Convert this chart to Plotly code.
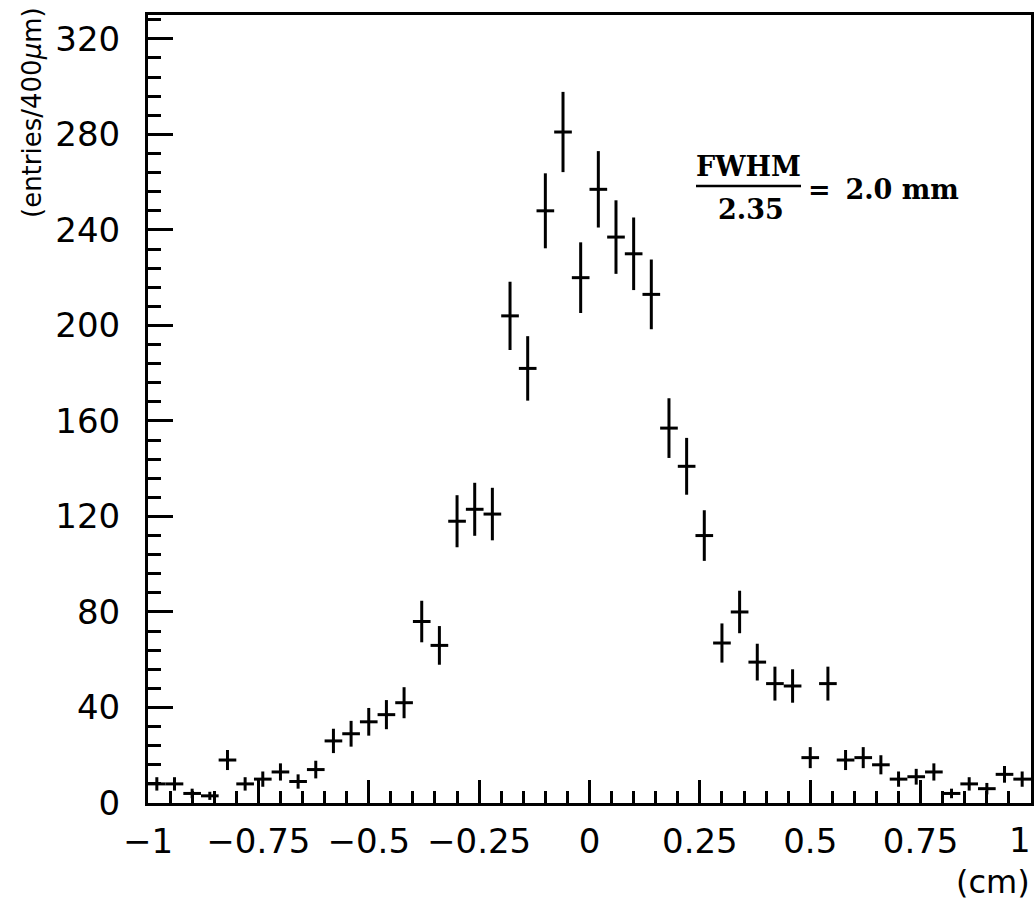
import plotly.graph_objects as go

# Bin centres (cm), 400 um bins
bin_centers = [-0.98, -0.94, -0.90, -0.86, -0.82, -0.78, -0.74, -0.70, -0.66, -0.62,
               -0.58, -0.54, -0.50, -0.46, -0.42, -0.38, -0.34, -0.30, -0.26, -0.22,
               -0.18, -0.14, -0.10, -0.06, -0.02, 0.02, 0.06, 0.10, 0.14, 0.18,
               0.22, 0.26, 0.30, 0.34, 0.38, 0.42, 0.46, 0.50, 0.54, 0.58,
               0.62, 0.66, 0.70, 0.74, 0.78, 0.82, 0.86, 0.90, 0.94, 0.98]

entries = [8, 8, 4, 3, 18, 8, 10, 13, 9, 14,
           26, 29, 34, 37, 42, 76, 66, 118, 123, 121,
           204, 182, 248, 281, 220, 257, 237, 230, 213, 157,
           141, 112, 67, 80, 59, 50, 49, 19, 50, 18,
           19, 16, 10, 11, 13, 4, 8, 6, 12, 10]

errors = [2.8, 2.8, 2.0, 1.7, 4.2, 2.8, 3.2, 3.6, 3.0, 3.7,
          5.1, 5.4, 5.8, 6.1, 6.5, 8.7, 8.1, 10.9, 11.1, 11.0,
          14.3, 13.5, 15.7, 16.8, 14.8, 16.0, 15.4, 15.2, 14.6, 12.5,
          11.9, 10.6, 8.2, 8.9, 7.7, 7.1, 7.0, 4.4, 7.1, 4.2,
          4.4, 4.0, 3.2, 3.3, 3.6, 2.0, 2.8, 2.4, 3.5, 3.2]

bin_half_width = 0.02

x_tickvals = [-1, -0.75, -0.5, -0.25, 0, 0.25, 0.5, 0.75, 1]
x_ticktext = ["\u22121", "\u22120.75", "\u22120.5", "\u22120.25", "0", "0.25", "0.5", "0.75", ""]
x_last_label = "1"
y_tickvals = [0, 40, 80, 120, 160, 200, 240, 280, 320]

fig = go.Figure()
fig.add_trace(go.Scatter(
    x=bin_centers, y=entries, mode="markers",
    marker=dict(size=1, color="black", opacity=0),
    error_y=dict(type="data", array=errors, visible=True, color="black", thickness=3, width=0),
    error_x=dict(type="constant", value=bin_half_width, visible=True, color="black", thickness=3, width=0),
    showlegend=False, hoverinfo="x+y",
))

tick_font = dict(family="DejaVu Sans", size=34, color="black")

fig.update_layout(
    width=1035, height=902,
    margin=dict(l=148, r=4, t=15, b=99),
    paper_bgcolor="white", plot_bgcolor="white",
    xaxis=dict(
        range=[-1, 1], tickvals=x_tickvals, ticktext=x_ticktext,
        ticks="inside", ticklen=23, tickwidth=2.5, tickcolor="black",
        minor=dict(dtick=0.05, tick0=0, ticks="inside", ticklen=12, tickwidth=2.5, tickcolor="black"),
        showline=True, linewidth=3, linecolor="black", mirror=True,
        showgrid=False, zeroline=False, tickfont=tick_font, ticklabelstandoff=6,
        ticklabeloverflow="allow", automargin=False,
    ),
    yaxis=dict(
        range=[0, 330], tickvals=y_tickvals,
        ticks="inside", ticklen=25, tickwidth=2.5, tickcolor="black",
        minor=dict(dtick=8, tick0=0, ticks="inside", ticklen=13, tickwidth=2.5, tickcolor="black"),
        showline=True, linewidth=3, linecolor="black", mirror=True,
        showgrid=False, zeroline=False, tickfont=tick_font, ticklabelstandoff=18,
        ticklabeloverflow="allow", automargin=False,
    ),
)

# Last x tick label, kept inside the page
fig.add_annotation(text=x_last_label, xref="paper", yref="paper", x=1, y=(803 - 840) / 788,
                   xanchor="right", yanchor="middle", showarrow=False, xshift=2,
                   font=tick_font)

# Axis titles
fig.add_annotation(text="(entries/400<i>\u03bc</i>m)", textangle=-90,
                   xref="paper", yref="paper", x=(32 - 148) / 883, y=(803 - 113) / 788,
                   xanchor="center", yanchor="middle", showarrow=False,
                   font=dict(family="DejaVu Sans", size=26, color="black"))
fig.add_annotation(text="(cm)", xref="paper", yref="paper",
                   x=(1032 - 148) / 883, y=(803 - 882) / 788,
                   xanchor="right", yanchor="middle", showarrow=False,
                   font=dict(family="DejaVu Sans", size=32, color="black"))

# FWHM label as a fraction
serif = dict(family="DejaVu Serif", size=27, color="black")
fig.add_annotation(text="<b>FWHM</b>", xref="paper", yref="paper",
                   x=(748 - 148) / 883, y=(803 - 166) / 788, xanchor="center", yanchor="middle",
                   showarrow=False, font=serif)
fig.add_annotation(text="<b>2.35</b>", xref="paper", yref="paper",
                   x=(751 - 148) / 883, y=(803 - 209) / 788, xanchor="center", yanchor="middle",
                   showarrow=False, font=serif)
fig.add_annotation(text="<b>=\u2009 2.0 mm</b>", xref="paper", yref="paper",
                   x=(806 - 148) / 883, y=(803 - 189) / 788, xanchor="left", yanchor="middle",
                   showarrow=False, font=serif)
fig.add_shape(type="line", xref="paper", yref="paper",
              x0=(696 - 148) / 883, x1=(801 - 148) / 883,
              y0=(803 - 186) / 788, y1=(803 - 186) / 788,
              line=dict(color="black", width=2.5))

fig.write_html("out.html")
